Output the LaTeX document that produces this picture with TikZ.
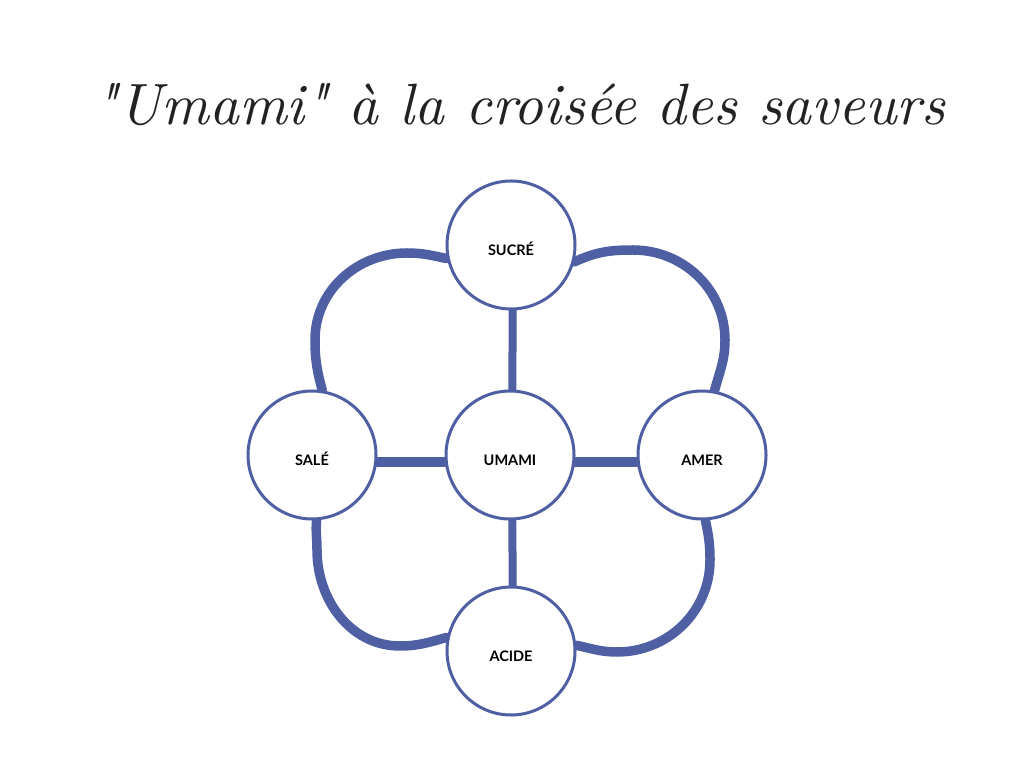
\documentclass[tikz,border=0pt]{standalone}
\usepackage{fontspec}
\newfontfamily\latofont{Lato}
\usepackage{graphicx}
\pgfdeclarelayer{background}
\pgfsetlayers{background,main}
\definecolor{flowerblue}{HTML}{4F5FA3}
\definecolor{titlegray}{HTML}{222222}
\begin{document}
\begin{tikzpicture}[x=1pt,y=1pt,
  taste/.style={circle,draw=flowerblue,line width=3pt,fill=white,minimum size=128pt,inner sep=0pt,
    font=\latofont\bfseries\fontsize{14.5}{16}\selectfont,text height=21.4pt,text depth=0pt},
  petal/.style={draw=flowerblue,line width=9.5pt,line cap=round},
  vspoke/.style={draw=flowerblue,line width=8pt},
  hspoke/.style={draw=flowerblue,line width=9.5pt}]
\useasboundingbox (0,0) rectangle (1024,768);
\node[text=titlegray,anchor=base,inner sep=0pt] (title) at (520,643)
  {\resizebox{850pt}{!}{\itshape \textquotedbl Umami\textquotedbl{} à la croisée des saveurs}};
\node[taste] (sucre) at (511,523) {SUCRÉ};
\node[taste] (umami) at (510,313) {UMAMI};
\node[taste] (sale) at (312,313) {SALÉ};
\node[taste] (amer) at (702,313) {AMER};
\node[taste] (acide) at (511,117) {ACIDE};
\coordinate (tlTop) at (407,515);
\coordinate (tlLeft) at (315,428);
\coordinate (trTop) at (633,518);
\coordinate (trRight) at (725,428);
\coordinate (brRight) at (710,208);
\coordinate (brBottom) at (617,116);
\coordinate (blLeft) at (317,218);
\coordinate (blBottom) at (400,122);
\begin{pgfonlayer}{background}
\draw[vspoke] ([xshift=2pt]sucre.center) -- ([xshift=2pt]umami.center);
\draw[hspoke] ([yshift=-7pt]sale.center) -- ([yshift=-7pt]umami.center);
\draw[hspoke] ([yshift=-7pt]umami.center) -- ([yshift=-7pt]amer.center);
\draw[vspoke] ([xshift=2pt]umami.center) -- ([xshift=2pt]acide.center);
% top-left petal
\draw[petal] (sucre.192) to[out=168,in=0] (tlTop) to[out=180,in=90] (tlLeft) to[out=270,in=105] (sale.81);
% top-right petal
\draw[petal] (sucre.345) to[out=25,in=180] (trTop) to[out=0,in=90] (trRight) to[out=270,in=75] (amer.79);
% bottom-right petal
\draw[petal] (amer.273) to[out=282,in=90] (brRight) to[out=270,in=0] (brBottom) to[out=180,in=-12] (acide.5);
% bottom-left petal
\draw[petal] (sale.274) to[out=265,in=90] (blLeft) to[out=270,in=180] (blBottom) to[out=0,in=195] (acide.168);
\end{pgfonlayer}
\end{tikzpicture}
\end{document}
